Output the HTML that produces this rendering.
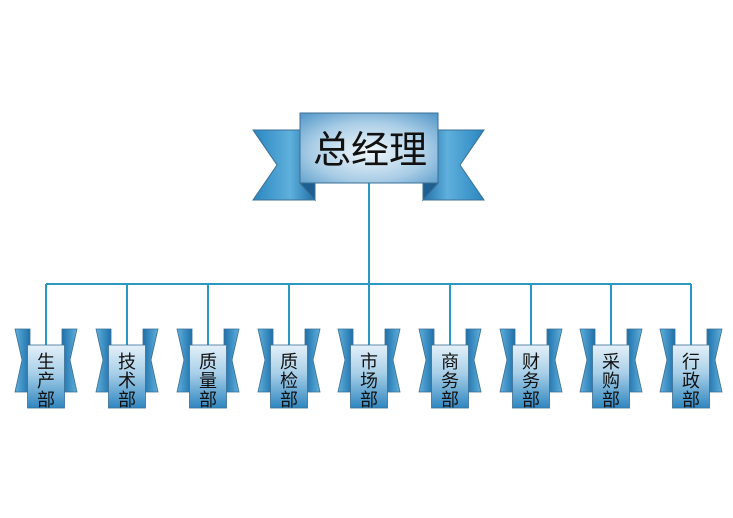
<!DOCTYPE html>
<html><head><meta charset="utf-8"><style>
html,body{margin:0;padding:0;background:#fff;}
svg{display:block;}
text{font-family:"Liberation Sans","Noto Sans CJK SC",sans-serif;fill:#111;}
</style></head><body>
<svg width="733" height="518" viewBox="0 0 733 518" xmlns="http://www.w3.org/2000/svg">
<defs>
<radialGradient id="mg" cx="0.5" cy="0.55" r="0.7">
<stop offset="0" stop-color="#f2f8fc"/><stop offset="0.6" stop-color="#a9cde6"/><stop offset="1" stop-color="#5b9ccb"/>
</radialGradient>
<linearGradient id="wl" x1="0" y1="0" x2="1" y2="0">
<stop offset="0" stop-color="#2a86c0"/><stop offset="0.6" stop-color="#5fb0dc"/><stop offset="1" stop-color="#1f6fa8"/>
</linearGradient>
<linearGradient id="wr" x1="1" y1="0" x2="0" y2="0">
<stop offset="0" stop-color="#2a86c0"/><stop offset="0.6" stop-color="#5fb0dc"/><stop offset="1" stop-color="#1f6fa8"/>
</linearGradient>
<linearGradient id="sg" x1="0" y1="0" x2="0" y2="1">
<stop offset="0" stop-color="#e4f0f8"/><stop offset="0.45" stop-color="#a8cfe8"/><stop offset="1" stop-color="#2e86c0"/>
</linearGradient>
<linearGradient id="swl" x1="0" y1="0" x2="1" y2="0">
<stop offset="0" stop-color="#5fb0dc"/><stop offset="1" stop-color="#1e70aa"/>
</linearGradient>
<linearGradient id="swr" x1="1" y1="0" x2="0" y2="0">
<stop offset="0" stop-color="#5fb0dc"/><stop offset="1" stop-color="#1e70aa"/>
</linearGradient>
<g id="node">
<polygon points="-31,329 -16,329 -16,392 -31,392 -24,360" fill="url(#swl)" stroke="#3b6f95" stroke-width="0.8"/>
<polygon points="31,329 16,329 16,392 31,392 24,360" fill="url(#swr)" stroke="#3b6f95" stroke-width="0.8"/>
<rect x="-18.5" y="345" width="37" height="63" fill="url(#sg)" stroke="#3b6f95" stroke-width="0.8"/>
</g>
</defs>
<g stroke="#2a98c4" stroke-width="2" fill="none">
<line x1="369" y1="183" x2="369" y2="284"/>
<line x1="46" y1="284" x2="691" y2="284"/>
<line x1="46" y1="284" x2="46" y2="345"/><line x1="127" y1="284" x2="127" y2="345"/>
<line x1="208" y1="284" x2="208" y2="345"/><line x1="289" y1="284" x2="289" y2="345"/>
<line x1="369" y1="284" x2="369" y2="345"/><line x1="450" y1="284" x2="450" y2="345"/>
<line x1="531" y1="284" x2="531" y2="345"/><line x1="611" y1="284" x2="611" y2="345"/>
<line x1="691" y1="284" x2="691" y2="345"/>
</g>
<g stroke="#3b6f95" stroke-width="1">
<polygon points="253,130 300,130 300,183 315,200 253,200 277,165" fill="url(#wl)"/>
<polygon points="484,130 438,130 438,183 423,200 484,200 460,165" fill="url(#wr)"/>
<polygon points="300,183 315,200 315,183" fill="#1d5f90"/>
<polygon points="438,183 423,200 423,183" fill="#1d5f90"/>
<rect x="300" y="113" width="138" height="70" fill="url(#mg)"/>
</g>
<text x="370" y="163" font-size="38" text-anchor="middle">总经理</text>

<use href="#node" x="46"/><use href="#node" x="127"/><use href="#node" x="208"/>
<use href="#node" x="289"/><use href="#node" x="369"/><use href="#node" x="450"/>
<use href="#node" x="531"/><use href="#node" x="611"/><use href="#node" x="691"/>

<g font-size="18" text-anchor="middle">
<text x="46" y="368">生</text><text x="46" y="387">产</text><text x="46" y="406">部</text>
<text x="127" y="368">技</text><text x="127" y="387">术</text><text x="127" y="406">部</text>
<text x="208" y="368">质</text><text x="208" y="387">量</text><text x="208" y="406">部</text>
<text x="289" y="368">质</text><text x="289" y="387">检</text><text x="289" y="406">部</text>
<text x="369" y="368">市</text><text x="369" y="387">场</text><text x="369" y="406">部</text>
<text x="450" y="368">商</text><text x="450" y="387">务</text><text x="450" y="406">部</text>
<text x="531" y="368">财</text><text x="531" y="387">务</text><text x="531" y="406">部</text>
<text x="611" y="368">采</text><text x="611" y="387">购</text><text x="611" y="406">部</text>
<text x="691" y="368">行</text><text x="691" y="387">政</text><text x="691" y="406">部</text>
</g>
</svg>
</body></html>
